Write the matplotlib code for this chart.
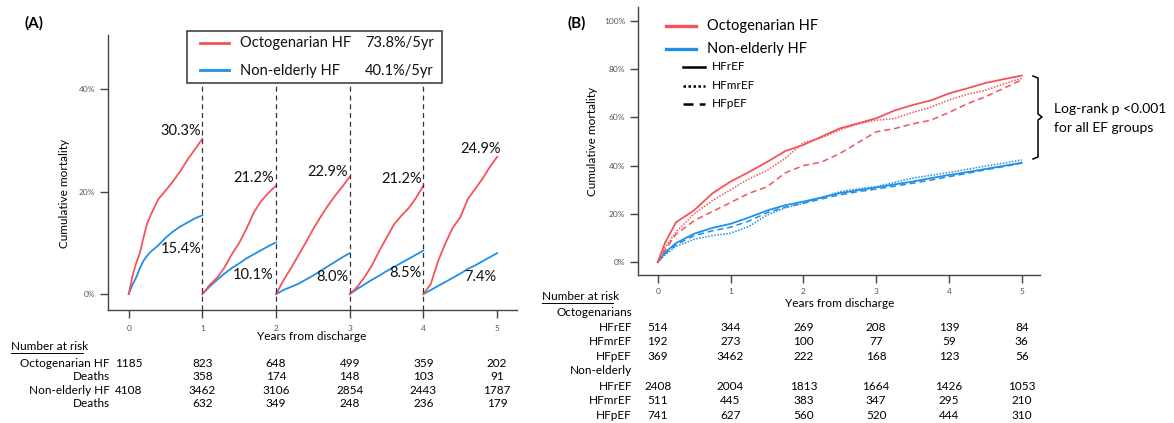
import matplotlib
matplotlib.use("Agg")
import matplotlib.pyplot as plt
from matplotlib.lines import Line2D
from matplotlib.patches import Rectangle
import numpy as np

plt.rcParams['font.family'] = ['Lato', 'DejaVu Sans']

# colours
RED = '#f5535b'
BLUE = '#1f8fe8'

# ---------------- panel A data (landmark analysis, % cumulative mortality) ----
seg_start = [0, 1, 2, 3, 4]
t_seg0 = [0, 0.05, 0.1, 0.15, 0.2, 0.25, 0.3, 0.4, 0.5, 0.6, 0.7, 0.8, 0.9, 1.0]
red_seg0 = [0, 3.5, 6.0, 8.0, 11.0, 13.8, 15.5, 18.5, 20.2, 22.0, 24.0, 26.3, 28.3, 30.3]
blue_seg0 = [0, 1.8, 3.2, 5.0, 6.5, 7.5, 8.3, 9.5, 11.0, 12.2, 13.2, 14.0, 14.8, 15.4]
# later segments sampled every 0.1 yr after the landmark
t_seg = [0, 0.1, 0.2, 0.3, 0.4, 0.5, 0.6, 0.7, 0.8, 0.9, 1.0]
red_seg1 = [0, 1.8, 3.2, 5.2, 7.8, 10.0, 12.8, 16.0, 18.2, 19.8, 21.2]
blue_seg1 = [0, 1.5, 2.8, 4.0, 5.1, 6.0, 7.0, 7.8, 8.6, 9.4, 10.1]
red_seg2 = [0, 2.7, 5.0, 7.5, 10.0, 12.6, 15.0, 17.2, 19.2, 21.0, 22.9]
blue_seg2 = [0, 0.8, 1.4, 2.0, 2.8, 3.6, 4.5, 5.4, 6.3, 7.2, 8.0]
red_seg3 = [0, 1.4, 3.3, 5.6, 8.4, 11.0, 13.6, 15.3, 16.8, 18.8, 21.2]
blue_seg3 = [0, 1.0, 1.9, 2.8, 3.6, 4.5, 5.3, 6.1, 6.9, 7.7, 8.5]
red_seg4 = [0, 2.0, 6.5, 10.0, 13.0, 15.0, 18.5, 20.5, 22.5, 24.8, 26.8]
blue_seg4 = [0, 0.8, 1.6, 2.4, 3.2, 4.0, 4.9, 5.6, 6.4, 7.2, 8.0]

red_lbl = ['30.3%', '21.2%', '22.9%', '21.2%', '24.9%']
blue_lbl = ['15.4%', '10.1%', '8.0%', '8.5%', '7.4%']

risk_a_labels = ['Octogenarian HF', 'Deaths', 'Non-elderly HF', 'Deaths']
risk_a = [
    ['1185', '823', '648', '499', '359', '202'],
    ['', '358', '174', '148', '103', '91'],
    ['4108', '3462', '3106', '2854', '2443', '1787'],
    ['', '632', '349', '248', '236', '179'],
]

# ---------------- panel B data (by EF group) ----------------
t_b = [0, 0.1, 0.25, 0.5, 0.75, 1.0, 1.25, 1.5, 1.75, 2.0, 2.25, 2.5, 2.75,
       3.0, 3.25, 3.5, 3.75, 4.0, 4.25, 4.5, 4.75, 5.0]
oct_hfref = [0, 8, 16.5, 21.5, 28.5, 33.4, 37.3, 41.5, 46.0, 48.6, 52.0, 55.4, 57.5,
             59.6, 62.8, 65.1, 67.0, 69.9, 72.0, 74.2, 75.8, 77.3]
oct_hfmref = [0, 6, 12.5, 20.0, 25.5, 30.0, 34.5, 38.0, 43.0, 49.5, 51.5, 54.8, 57.2,
              58.8, 59.5, 62.0, 64.2, 67.2, 69.5, 71.2, 73.8, 76.2]
oct_hfpef = [0, 5, 11.5, 17.2, 21.0, 24.7, 28.5, 31.2, 37.0, 40.0, 41.5, 45.0, 49.5,
             54.0, 55.3, 57.3, 58.8, 62.0, 65.6, 68.5, 72.0, 75.5]
non_hfref = [0, 4, 7.9, 11.8, 14.2, 15.9, 18.5, 21.4, 23.6, 25.1, 26.8, 28.6, 29.8,
             31.0, 32.2, 33.4, 34.8, 36.1, 37.3, 38.6, 39.9, 41.2]
non_hfmref = [0, 3, 6.5, 9.5, 11.0, 12.0, 14.8, 19.5, 22.5, 24.4, 26.8, 29.2, 30.4,
              31.3, 33.0, 34.8, 36.0, 37.1, 38.5, 39.8, 41.0, 42.4]
non_hfpef = [0, 3.5, 7.2, 11.0, 13.0, 14.5, 17.0, 20.5, 22.8, 24.4, 26.2, 27.9, 29.2,
             30.3, 31.5, 32.7, 34.0, 35.4, 36.8, 38.3, 39.6, 41.0]

risk_b_labels = ['Octogenarians', 'HFrEF', 'HFmrEF', 'HFpEF',
                 'Non-elderly', 'HFrEF', 'HFmrEF', 'HFpEF']
risk_b = [
    None,
    ['514', '344', '269', '208', '139', '84'],
    ['192', '273', '100', '77', '59', '36'],
    ['369', '3462', '222', '168', '123', '56'],
    None,
    ['2408', '2004', '1813', '1664', '1426', '1053'],
    ['511', '445', '383', '347', '295', '210'],
    ['741', '627', '560', '520', '444', '310'],
]

years = [0, 1, 2, 3, 4, 5]

W, H = 1174, 423
fig = plt.figure(figsize=(W / 100, H / 100), dpi=100)


def fx(x):
    return x / W


def fy(y):
    return 1 - y / H


def style_axes(ax):
    for s in ['top', 'right']:
        ax.spines[s].set_visible(False)
    for s in ['left', 'bottom']:
        ax.spines[s].set_color('#444444')
        ax.spines[s].set_linewidth(1.0)
    ax.tick_params(direction='out', length=6, width=1, color='#444444',
                   labelsize=6, labelcolor='#555555', pad=3)
    ax.set_xticks(years)
    ax.set_xticklabels([str(y) for y in years])


# ================= panel A =================
axA = fig.add_axes([fx(108), fy(310), fx(409), 275 / H])
style_axes(axA)
axA.set_xlim(-0.281, 5.27)
axA.set_ylim(-3.1, 50.6)
axA.set_yticks([0, 20, 40])
axA.set_yticklabels(['0%', '20%', '40%'])
axA.tick_params(axis='x', pad=5)

reds = [red_seg0, red_seg1, red_seg2, red_seg3, red_seg4]
blues = [blue_seg0, blue_seg1, blue_seg2, blue_seg3, blue_seg4]
for i, s0 in enumerate(seg_start):
    tt = t_seg0 if i == 0 else t_seg
    xs = [s0 + t for t in tt]
    axA.plot(xs, blues[i], color=BLUE, lw=1.3, solid_joinstyle='round')
    axA.plot(xs, reds[i], color=RED, lw=1.3, solid_joinstyle='round')

# landmark dashed separators
axA.vlines([1, 2, 3, 4], -3.1, 41.3, colors='#333333', linestyles=(0, (4, 3)),
           lw=0.9, clip_on=False)

# end-of-segment annotations
red_pos = [(0.98, 31.9, 'right'), (1.97, 22.7, 'right'), (2.98, 23.9, 'right'),
           (3.98, 22.5, 'right'), (4.77, 28.3, 'center')]
blue_pos = [(0.99, 8.8, 'right'), (1.97, 3.7, 'right'), (2.98, 3.3, 'right'),
            (3.98, 4.1, 'right'), (4.77, 3.3, 'center')]
for lbl, (x, y, ha) in zip(red_lbl, red_pos):
    axA.text(x, y, lbl, ha=ha, va='center', fontsize=10.5, color='#111111')
for lbl, (x, y, ha) in zip(blue_lbl, blue_pos):
    axA.text(x, y, lbl, ha=ha, va='center', fontsize=10.5, color='#111111')

# boxed legend of panel A
fig.add_artist(Rectangle((fx(187), fy(83)), fx(442 - 187), (83 - 31) / H,
                         fill=True, facecolor='white', edgecolor='#333333', lw=1.1))
fig.add_artist(Line2D([fx(200), fx(229)], [fy(43.5), fy(43.5)], color=RED, lw=2))
fig.add_artist(Line2D([fx(200), fx(229)], [fy(70.5), fy(70.5)], color=BLUE, lw=2))
fig.text(fx(240), fy(43.5), 'Octogenarian HF', fontsize=10.5, va='center', color='#111111')
fig.text(fx(240), fy(70.5), 'Non-elderly HF', fontsize=10.5, va='center', color='#111111')
fig.text(fx(365), fy(43.5), '73.8%/5yr', fontsize=10.5, va='center', color='#111111')
fig.text(fx(365), fy(70.5), '40.1%/5yr', fontsize=10.5, va='center', color='#111111')

fig.text(fx(312), fy(336), 'Years from discharge', ha='center', va='center', fontsize=8.5)
fig.text(fx(65), fy(193), 'Cumulative mortality', rotation=90, ha='center',
         va='center', fontsize=8.5)
fig.text(fx(34), fy(23), '(A)', ha='center', va='center', fontsize=11, fontweight='bold')

# number at risk, panel A
fig.text(fx(11), fy(347), 'Number at risk', fontsize=8.5, va='center')
fig.add_artist(Line2D([fx(11), fx(83)], [fy(353), fy(353)], color='black', lw=0.7))
row_y_a = [363, 376.5, 390, 403.5]
for lab, row, y in zip(risk_a_labels, risk_a, row_y_a):
    fig.text(fx(110), fy(y), lab, ha='right', va='center', fontsize=8.5)
    for yr, val in zip(years, row):
        X = axA.transData.transform((yr, 0))[0]
        fig.text(X / fig.dpi / fig.get_figwidth(), fy(y), val, ha='center',
                 va='center', fontsize=8.5)

# ================= panel B =================
axB = fig.add_axes([fx(637.7), fy(275), fx(402.3), 268 / H])
style_axes(axB)
axB.set_xlim(-0.275, 5.25)
axB.set_ylim(-5.3, 105.7)
axB.set_yticks([0, 20, 40, 60, 80, 100])
axB.set_yticklabels(['0%', '20%', '40%', '60%', '80%', '100%'])

ls_solid, ls_dot, ls_dash = '-', (0, (1, 1)), (0, (4, 2.5))
axB.plot(t_b, non_hfpef, color=BLUE, lw=1.1, ls=ls_dash)
axB.plot(t_b, non_hfmref, color=BLUE, lw=1.1, ls=ls_dot)
axB.plot(t_b, non_hfref, color=BLUE, lw=1.3, ls=ls_solid)
axB.plot(t_b, oct_hfpef, color=RED, lw=1.1, ls=ls_dash)
axB.plot(t_b, oct_hfmref, color=RED, lw=1.1, ls=ls_dot)
axB.plot(t_b, oct_hfref, color=RED, lw=1.3, ls=ls_solid)

# legend of panel B
fig.add_artist(Line2D([fx(666), fx(696)], [fy(26), fy(26)], color=RED, lw=2.4))
fig.add_artist(Line2D([fx(666), fx(696)], [fy(49), fy(49)], color=BLUE, lw=2.4))
fig.text(fx(707), fy(26), 'Octogenarian HF', fontsize=10.5, va='center')
fig.text(fx(707), fy(49), 'Non-elderly HF', fontsize=10.5, va='center')
for y, ls, lab in [(66.7, ls_solid, 'HFrEF'), (85.7, ls_dot, 'HFmrEF'), (103.7, ls_dash, 'HFpEF')]:
    fig.add_artist(Line2D([fx(683), fx(705)], [fy(y), fy(y)], color='black', lw=1.8, ls=ls))
    fig.text(fx(712), fy(y), lab, fontsize=8.5, va='center')

# curly brace + log-rank note
bx = [1033, 1038, 1038, 1042, 1038, 1038, 1033]
by = [76, 78, 114, 117, 120, 157, 159]
fig.add_artist(Line2D([fx(v) for v in bx], [fy(v) for v in by], color='black', lw=1.1))
fig.text(fx(1054), fy(109), 'Log-rank p <0.001', fontsize=10, va='center')
fig.text(fx(1054), fy(128), 'for all EF groups', fontsize=10, va='center')

fig.text(fx(840), fy(303), 'Years from discharge', ha='center', va='center', fontsize=8.5)
fig.text(fx(593), fy(141), 'Cumulative mortality', rotation=90, ha='center',
         va='center', fontsize=8.5)
fig.text(fx(577), fy(23), '(B)', ha='center', va='center', fontsize=11, fontweight='bold')

# number at risk, panel B
fig.text(fx(542), fy(296.5), 'Number at risk', fontsize=8.5, va='center')
fig.add_artist(Line2D([fx(542), fx(613)], [fy(302.5), fy(302.5)], color='black', lw=0.7))
row_y_b = [312.3, 327.3, 341.7, 356, 370.7, 386, 400.7, 415]
fig.canvas.draw()
for lab, row, y in zip(risk_b_labels, risk_b, row_y_b):
    fig.text(fx(632), fy(y), lab, ha='right', va='center', fontsize=8.5)
    if row is None:
        continue
    for yr, val in zip(years, row):
        X = axB.transData.transform((yr, 0))[0]
        fig.text(X / fig.dpi / fig.get_figwidth(), fy(y), val, ha='center',
                 va='center', fontsize=8.5)

fig.savefig('out.png', dpi=100)
